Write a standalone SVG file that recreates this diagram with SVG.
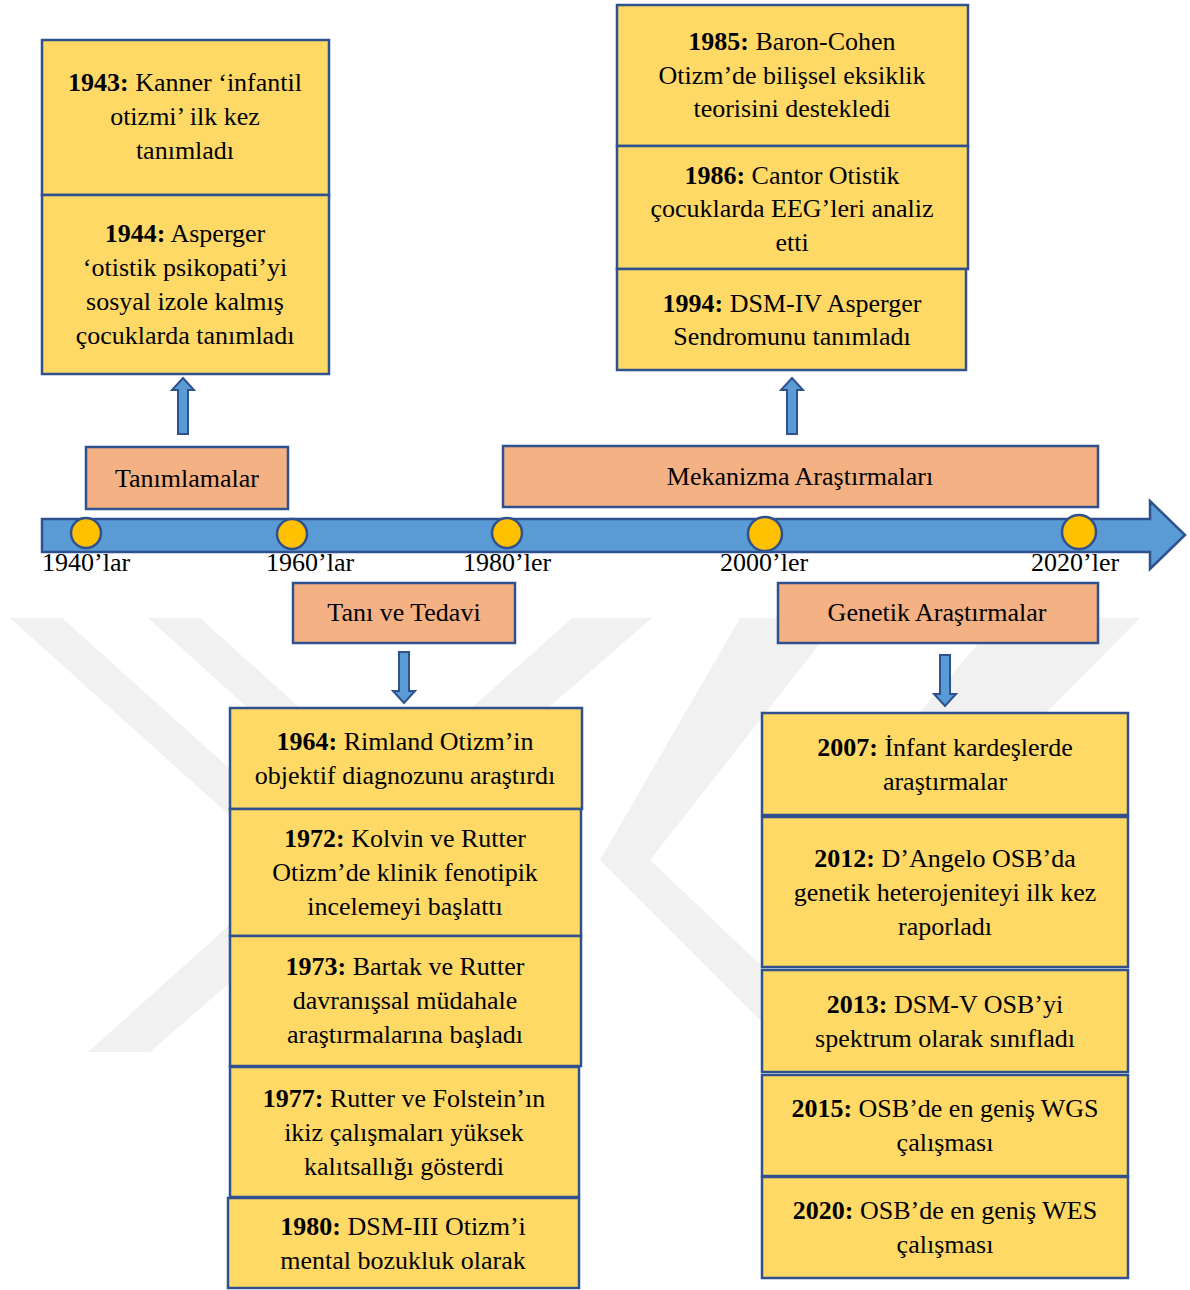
<svg xmlns="http://www.w3.org/2000/svg" width="1190" height="1290" viewBox="0 0 1190 1290">
<style>
text{font-family:"Liberation Serif","Times New Roman",serif;font-size:26px;fill:#000;text-anchor:middle}
.b{font-weight:bold}
.yr{text-anchor:start}
.ev{fill:#FFD966;stroke:#2F528F;stroke-width:2.5}
.lb{fill:#F4B183;stroke:#2F528F;stroke-width:2.5}
.dot{fill:#FFC000;stroke:#2F528F;stroke-width:2.5}
.arr{fill:#5B9BD5;stroke:#2F528F;stroke-width:2}
.wm{fill:#F1F1F1}
</style>
<rect width="1190" height="1290" fill="#fff"/>
<g id="watermark">
<polygon class="wm" points="10,618 62,618 545,1052 493,1052"/>
<polygon class="wm" points="148,618 200,618 330,735 278,735"/>
<polygon class="wm" points="572,618 652,618 150,1052 88,1052"/>
<polygon class="wm" points="740,618 840,618 650,860 600,860"/>
<polygon class="wm" points="600,860 650,860 850,1050 790,1050"/>
<polygon class="wm" points="1000,618 1140,618 860,900 760,900"/>
</g>
<g id="timeline">
<polygon points="42,519 1150,519 1150,501 1185,535 1150,569 1150,552 42,552" fill="#5B9BD5" stroke="#2F528F" stroke-width="2.5"/>
<circle class="dot" cx="86" cy="533" r="15"/>
<circle class="dot" cx="292" cy="534" r="15"/>
<circle class="dot" cx="507" cy="533" r="15"/>
<circle class="dot" cx="765" cy="534" r="17"/>
<circle class="dot" cx="1079" cy="532" r="17"/>
<text class="yr" x="42" y="571">1940’lar</text>
<text class="yr" x="266" y="571">1960’lar</text>
<text class="yr" x="463" y="571">1980’ler</text>
<text class="yr" x="720" y="571">2000’ler</text>
<text class="yr" x="1031" y="571">2020’ler</text>
</g>
<g id="connectors">
<polygon class="arr" points="178,434 178,390 172,390 183,378 194,390 188,390 188,434"/>
<polygon class="arr" points="787,434 787,390 781,390 792,378 803,390 797,390 797,434"/>
<polygon class="arr" points="399,652 409,652 409,691 415,691 404,703 393,691 399,691"/>
<polygon class="arr" points="940,655 950,655 950,694 956,694 945,706 934,694 940,694"/>
</g>
<g id="lbl-tanimlamalar"><rect class="lb" x="86" y="447" width="202" height="62"/><text x="187" y="487">Tanımlamalar</text></g>
<g id="lbl-mekanizma"><rect class="lb" x="503" y="446" width="595" height="61"/><text x="800" y="485">Mekanizma Araştırmaları</text></g>
<g id="lbl-tani"><rect class="lb" x="293" y="583" width="222" height="60"/><text x="404" y="621">Tanı ve Tedavi</text></g>
<g id="lbl-genetik"><rect class="lb" x="778" y="583" width="320" height="60"/><text x="937" y="621">Genetik Araştırmalar</text></g>
<g id="e1943"><rect class="ev" x="42" y="40" width="287" height="155"/>
<text x="185" y="91"><tspan class="b">1943:</tspan> Kanner ‘infantil</text><text x="185" y="125">otizmi’ ilk kez</text><text x="185" y="159">tanımladı</text></g>
<g id="e1944"><rect class="ev" x="42" y="195" width="287" height="179"/>
<text x="185" y="242"><tspan class="b">1944:</tspan> Asperger</text><text x="185" y="276">‘otistik psikopati’yi</text><text x="185" y="310">sosyal izole kalmış</text><text x="185" y="344">çocuklarda tanımladı</text></g>
<g id="e1985"><rect class="ev" x="617" y="5" width="351" height="141"/>
<text x="792" y="50"><tspan class="b">1985:</tspan> Baron-Cohen</text><text x="792" y="84">Otizm’de bilişsel eksiklik</text><text x="792" y="117">teorisini destekledi</text></g>
<g id="e1986"><rect class="ev" x="617" y="146" width="351" height="123"/>
<text x="792" y="184"><tspan class="b">1986:</tspan> Cantor Otistik</text><text x="792" y="217">çocuklarda EEG’leri analiz</text><text x="792" y="251">etti</text></g>
<g id="e1994"><rect class="ev" x="617" y="269" width="349" height="101"/>
<text x="792" y="312"><tspan class="b">1994:</tspan> DSM-IV Asperger</text><text x="792" y="345">Sendromunu tanımladı</text></g>
<g id="e1964"><rect class="ev" x="230" y="708" width="352" height="101"/>
<text x="405" y="750"><tspan class="b">1964:</tspan> Rimland Otizm’in</text><text x="405" y="784">objektif diagnozunu araştırdı</text></g>
<g id="e1972"><rect class="ev" x="230" y="809" width="351" height="127"/>
<text x="405" y="847"><tspan class="b">1972:</tspan> Kolvin ve Rutter</text><text x="405" y="881">Otizm’de klinik fenotipik</text><text x="405" y="915">incelemeyi başlattı</text></g>
<g id="e1973"><rect class="ev" x="230" y="936" width="351" height="130"/>
<text x="405" y="975"><tspan class="b">1973:</tspan> Bartak ve Rutter</text><text x="405" y="1009">davranışsal müdahale</text><text x="405" y="1043">araştırmalarına başladı</text></g>
<g id="e1977"><rect class="ev" x="230" y="1067" width="349" height="130"/>
<text x="404" y="1107"><tspan class="b">1977:</tspan> Rutter ve Folstein’ın</text><text x="404" y="1141">ikiz çalışmaları yüksek</text><text x="404" y="1175">kalıtsallığı gösterdi</text></g>
<g id="e1980"><rect class="ev" x="228" y="1198" width="351" height="90"/>
<text x="403" y="1235"><tspan class="b">1980:</tspan> DSM-III Otizm’i</text><text x="403" y="1269">mental bozukluk olarak</text></g>
<g id="e2007"><rect class="ev" x="762" y="713" width="366" height="102"/>
<text x="945" y="756"><tspan class="b">2007:</tspan> İnfant kardeşlerde</text><text x="945" y="790">araştırmalar</text></g>
<g id="e2012"><rect class="ev" x="762" y="817" width="366" height="150"/>
<text x="945" y="867"><tspan class="b">2012:</tspan> D’Angelo OSB’da</text><text x="945" y="901">genetik heterojeniteyi ilk kez</text><text x="945" y="935">raporladı</text></g>
<g id="e2013"><rect class="ev" x="762" y="970" width="366" height="102"/>
<text x="945" y="1013"><tspan class="b">2013:</tspan> DSM-V OSB’yi</text><text x="945" y="1047">spektrum olarak sınıfladı</text></g>
<g id="e2015"><rect class="ev" x="762" y="1075" width="366" height="101"/>
<text x="945" y="1117"><tspan class="b">2015:</tspan> OSB’de en geniş WGS</text><text x="945" y="1151">çalışması</text></g>
<g id="e2020"><rect class="ev" x="762" y="1177" width="366" height="101"/>
<text x="945" y="1219"><tspan class="b">2020:</tspan> OSB’de en geniş WES</text><text x="945" y="1253">çalışması</text></g>
</svg>
